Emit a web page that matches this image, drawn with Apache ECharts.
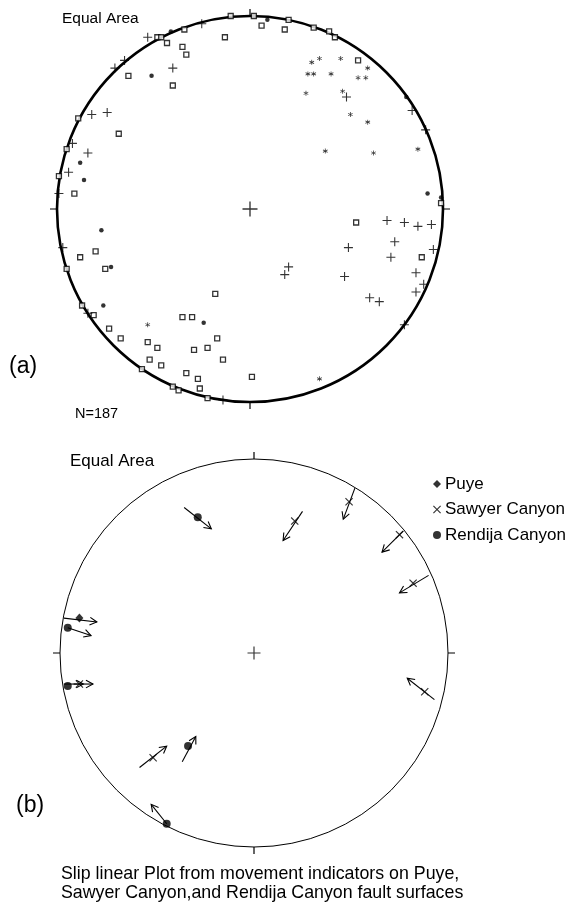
<!DOCTYPE html>
<html>
<head>
<meta charset="utf-8">
<script src="https://cdn.jsdelivr.net/npm/echarts@6/dist/echarts.min.js"></script>
<style>
html,body{margin:0;padding:0;background:#fff;}
#chart{width:572px;height:904px;}
</style>
</head>
<body>
<div id="chart"></div>
<script>
// ---- Plot (a): positions in net units (east, north), primitive circle radius = 1 ----
const squaresA = [
  [-0.10,1.00],[0.02,1.00],[0.06,0.95],[0.20,0.98],[0.18,0.93],[0.33,0.94],[0.41,0.92],[0.44,0.89],
  [0.56,0.77],[-0.13,0.89],[-0.34,0.93],[-0.48,0.89],[-0.46,0.89],[-0.43,0.86],[-0.35,0.84],[-0.33,0.80],
  [-0.63,0.69],[-0.40,0.64],[-0.89,0.47],[-0.68,0.39],[-0.95,0.31],[-0.99,0.17],[-0.91,0.08],[0.99,0.03],
  [0.55,-0.07],[0.89,-0.25],[-0.80,-0.22],[-0.88,-0.25],[-0.75,-0.31],[-0.95,-0.31],[-0.18,-0.44],
  [-0.87,-0.50],[-0.81,-0.55],[-0.35,-0.56],[-0.30,-0.56],[-0.73,-0.62],[-0.67,-0.67],[-0.53,-0.69],
  [-0.48,-0.72],[-0.17,-0.67],[-0.29,-0.73],[-0.22,-0.72],[-0.14,-0.78],[-0.52,-0.78],[-0.46,-0.81],
  [-0.56,-0.83],[-0.33,-0.85],[-0.27,-0.88],[0.01,-0.87],[-0.40,-0.92],[-0.37,-0.94],[-0.26,-0.93],[-0.22,-0.98]
];
const dotsA = [
  [0.09,0.98],[-0.41,0.92],[-0.51,0.69],[-0.88,0.24],[-0.86,0.15],[0.92,0.08],[0.99,0.06],[0.81,0.58],
  [-0.77,-0.11],[-0.72,-0.30],[-0.76,-0.50],[-0.24,-0.59]
];
const plusesA = [
  [-0.25,0.96],[-0.53,0.89],[-0.65,0.77],[-0.70,0.73],[-0.40,0.73],[-0.82,0.49],[-0.74,0.50],[-0.92,0.34],
  [-0.84,0.29],[-0.94,0.19],[-0.99,0.08],[0.50,0.58],[0.84,0.51],[0.91,0.41],[0.71,-0.06],[0.80,-0.07],
  [0.87,-0.09],[0.94,-0.08],[0.51,-0.20],[0.75,-0.17],[0.95,-0.21],[0.73,-0.25],[0.20,-0.30],[0.18,-0.34],
  [0.49,-0.35],[0.86,-0.33],[0.90,-0.39],[0.86,-0.43],[0.62,-0.46],[0.67,-0.48],[0.80,-0.60],[-0.14,-0.99],
  [-0.97,-0.20],[-0.84,-0.54]
];
const starsA = [
  [0.32,0.76],[0.36,0.78],[0.47,0.78],[0.30,0.70],[0.33,0.70],[0.42,0.70],[0.56,0.68],[0.60,0.68],
  [0.61,0.73],[0.29,0.60],[0.48,0.61],[0.52,0.49],[0.61,0.45],[0.39,0.30],[0.64,0.29],[0.87,0.31],
  [-0.53,-0.60],[0.36,-0.88]
];
const centerMark = [[0,0]];

// ---- Plot (b): slip lineations ----
const seriesNamesB = ['Puye','Sawyer Canyon','Rendija Canyon'];
const puyeB = [[-0.90,0.18]];
const sawyerB = [[0.21,0.68],[0.49,0.78],[0.75,0.61],[0.82,0.36],[0.88,-0.20],[-0.52,-0.54],[-0.90,-0.16]];
const rendijaB = [[-0.29,0.70],[-0.96,0.13],[-0.96,-0.17],[-0.34,-0.48],[-0.45,-0.88]];
// arrows: [tailEast, tailNorth, headEast, headNorth]
const arrowsB = [
  [-0.36,0.75,-0.22,0.64],
  [-0.98,0.18,-0.81,0.16],
  [-0.96,0.13,-0.84,0.09],
  [-0.98,-0.16,-0.88,-0.16],
  [-0.93,-0.16,-0.83,-0.16],
  [-0.59,-0.59,-0.45,-0.48],
  [-0.37,-0.56,-0.30,-0.43],
  [-0.45,-0.88,-0.53,-0.78],
  [0.93,-0.24,0.79,-0.13],
  [0.25,0.73,0.15,0.58],
  [0.52,0.85,0.46,0.69],
  [0.77,0.63,0.66,0.52],
  [0.90,0.40,0.75,0.31]
];
const tickAngles = [0,90,180,270];

const FONT = '"Liberation Sans", Arial, Helvetica, sans-serif';
const PLUS = 'path://M4.4,0H5.6V10H4.4ZM0,4.4H10V5.6H0Z';
const THINPLUS = 'path://M4.55,0H5.45V10H4.55ZM0,4.55H10V5.45H0Z';
const STAR = 'path://M4.3,0H5.7V10H4.3ZM0.32,3.11L1.02,1.89L9.68,6.89L8.98,8.11ZM1.02,8.11L0.32,6.89L8.98,1.89L9.68,3.11Z';
const XMARK = 'path://M0,1L1,0L5,4L9,0L10,1L6,5L10,9L9,10L5,6L1,10L0,9L4,5Z';

const chart = echarts.init(document.getElementById('chart'), null, {renderer:'canvas'});

function angleAx(idx, w){
  return {
    polarIndex: idx, type:'value', min:0, max:360, interval:90, startAngle:90, clockwise:true,
    axisLine:{show:true, lineStyle:{color:'#000', width:w}},
    axisTick:{show:true, inside:false, length:7, lineStyle:{color:'#000', width:1.2}},
    axisLabel:{show:false}, splitLine:{show:false}, splitArea:{show:false}
  };
}
function radiusAx(idx){
  return {polarIndex: idx, type:'value', min:0, max:1, show:false,
    axisLine:{show:false}, axisTick:{show:false}, axisLabel:{show:false}, splitLine:{show:false}};
}
function hAx(idx){
  return {gridIndex: idx, type:'value', min:-1, max:1, show:false};
}

function renderArrow(params, api){
  const a = api.coord([api.value(0), api.value(1)]);
  const b = api.coord([api.value(2), api.value(3)]);
  const ang = Math.atan2(b[1]-a[1], b[0]-a[0]);
  const L = 8, s = 0.5;
  const h1 = [b[0]-L*Math.cos(ang-s), b[1]-L*Math.sin(ang-s)];
  const h2 = [b[0]-L*Math.cos(ang+s), b[1]-L*Math.sin(ang+s)];
  return {
    type:'group',
    children:[
      {type:'line', shape:{x1:a[0], y1:a[1], x2:b[0], y2:b[1]}, style:{stroke:'#000', lineWidth:1.1}},
      {type:'polyline', shape:{points:[h1, b, h2]}, style:{stroke:'#000', fill:null, lineWidth:1.1}}
    ]
  };
}

function txt(text, x, y, size){
  return {type:'text', x:x, y:y, silent:true,
    style:{text:text, fill:'#000', font: size + 'px ' + FONT, textAlign:'left', textVerticalAlign:'middle'}};
}

const option = {
  animation:false,
  backgroundColor:'#fff',
  polar:[
    {center:[250,209], radius:193},
    {center:[254,653], radius:194}
  ],
  angleAxis:[angleAx(0,2.6), angleAx(1,1)],
  radiusAxis:[radiusAx(0), radiusAx(1)],
  grid:[
    {left:57, top:16, width:386, height:386, show:false},
    {left:60, top:459, width:388, height:388, show:false}
  ],
  xAxis:[hAx(0), hAx(1)],
  yAxis:[hAx(0), hAx(1)],
  legend:{
    show:true, orient:'vertical', left:428, top:470,
    itemWidth:8, itemHeight:8, itemGap:7.5, selectedMode:false,
    textStyle:{color:'#000', fontSize:17, fontFamily:FONT, lineHeight:18, padding:[0,0,0,-1]},
    data:[
      {name:seriesNamesB[0], icon:'diamond'},
      {name:seriesNamesB[1], icon:XMARK},
      {name:seriesNamesB[2], icon:'circle'}
    ]
  },
  graphic:[
    txt('Equal Area', 62, 18.5, 15.5),
    txt('(a)', 9, 367, 23),
    txt('N=187', 75, 414, 14.5),
    txt('Equal Area', 70, 461.5, 17),
    txt('(b)', 16, 806, 23),
    txt('Slip linear Plot from movement indicators on Puye,', 61, 874.5, 17.8),
    txt('Sawyer Canyon,and Rendija Canyon fault surfaces', 61, 893, 17.8)
  ],
  series:[
    {type:'scatter', name:'centerA', xAxisIndex:0, yAxisIndex:0, data:centerMark, symbol:THINPLUS, symbolSize:15,
      itemStyle:{color:'#000'}, silent:true, z:3},
    {type:'scatter', name:'squaresA', xAxisIndex:0, yAxisIndex:0, data:squaresA, symbol:'rect', symbolSize:5,
      itemStyle:{color:'#fff', borderColor:'#000', borderWidth:1.3}, silent:true, z:4},
    {type:'scatter', name:'dotsA', xAxisIndex:0, yAxisIndex:0, data:dotsA, symbol:'circle', symbolSize:4.5,
      itemStyle:{color:'#000'}, silent:true, z:4},
    {type:'scatter', name:'plusesA', xAxisIndex:0, yAxisIndex:0, data:plusesA, symbol:PLUS, symbolSize:9,
      itemStyle:{color:'#000'}, silent:true, z:4},
    {type:'scatter', name:'starsA', xAxisIndex:0, yAxisIndex:0, data:starsA, symbol:STAR, symbolSize:5,
      itemStyle:{color:'#000'}, silent:true, z:4},

    {type:'scatter', name:'centerB', xAxisIndex:1, yAxisIndex:1, data:centerMark, symbol:THINPLUS, symbolSize:13,
      itemStyle:{color:'#000'}, silent:true, z:3},
    {type:'custom', name:'arrowsB', xAxisIndex:1, yAxisIndex:1, data:arrowsB, renderItem:renderArrow,
      encode:{x:[0,2], y:[1,3]}, clip:false, silent:true, z:3},
    {type:'scatter', name:seriesNamesB[0], xAxisIndex:1, yAxisIndex:1, data:puyeB, symbol:'diamond', symbolSize:[8,9],
      itemStyle:{color:'#000'}, silent:true, z:4},
    {type:'scatter', name:seriesNamesB[1], xAxisIndex:1, yAxisIndex:1, data:sawyerB, symbol:XMARK, symbolSize:8,
      itemStyle:{color:'#000'}, silent:true, z:4},
    {type:'scatter', name:seriesNamesB[2], xAxisIndex:1, yAxisIndex:1, data:rendijaB, symbol:'circle', symbolSize:8,
      itemStyle:{color:'#000'}, silent:true, z:4}
  ]
};
chart.setOption(option);
</script>
</body>
</html>
